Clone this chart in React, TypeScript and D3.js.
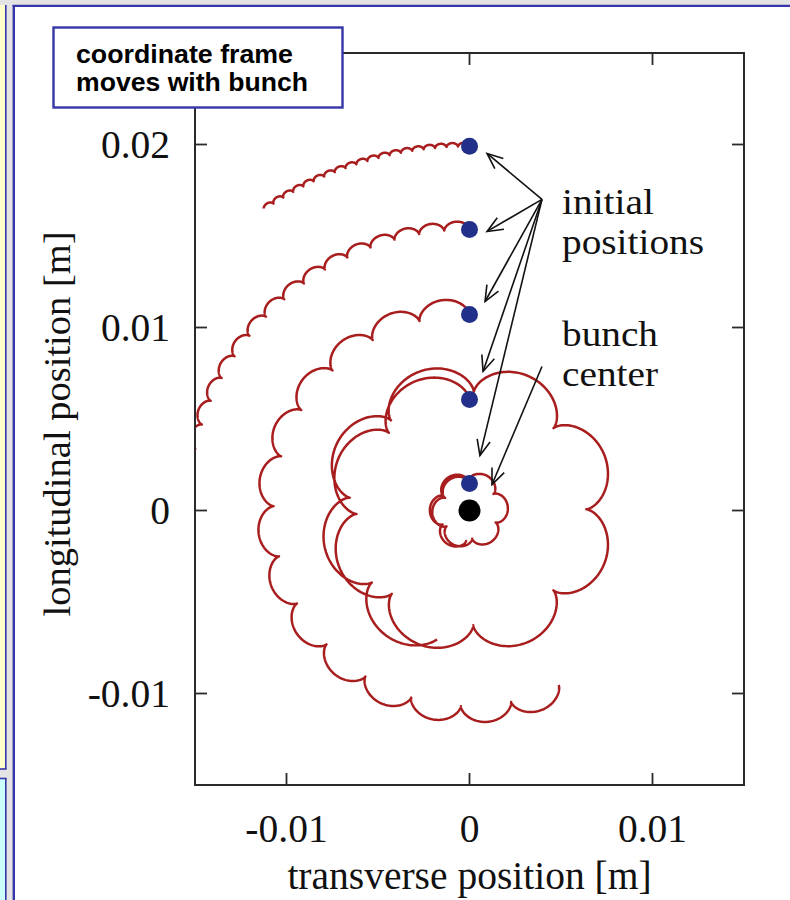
import React from 'react';
import * as d3 from 'd3';

// ---------- data ----------
const xDomain = [-0.015, 0.015];
const yDomain = [-0.015, 0.025];
const xTicks = [-0.01, 0, 0.01];
const yTicks = [-0.01, 0, 0.01, 0.02];
const xTickLabels = ['-0.01', '0', '0.01'];
const yTickLabels = ['-0.01', '0', '0.01', '0.02'];

// initial positions of the five test particles (m)
const startX = [0, 0, 0, 0, 0];
const startY = [0.0199, 0.01536, 0.01071, 0.00607, 0.00148];
// gyration (loop) radius of each track (m)
const loopRadius = [0.0001, 0.00022, 0.00044, 0.00078, 0.00026];
// total rotation of each track about the bunch centre (deg)
const sweepDeg = [34, 82, 207, 520, 540];
// slow outward drift of the guiding centre over the whole track (m)
const radialDrift = [0, 0, 0, 0.0006, 0.0002];

const bunchCenter = [0, 0];

// annotation arrows: shared tail and the tips near each initial position (m)
const arrowTail = [0.00396, 0.017];
const arrowTipX = [0.00096, 0.00096, 0.00085, 0.00074, 0.00057];
const arrowTipY = [0.01951, 0.01525, 0.01142, 0.0076, 0.003];
const centerArrow = [[0.00396, 0.00787], [0.00123, 0.00142]];

const xTitle = 'transverse position [m]';
const yTitle = 'longitudinal position [m]';
const boxLines = ['coordinate frame', 'moves with bunch'];
const noteLines = ['initial', 'positions', 'bunch', 'center'];

// ---------- layout ----------
const W = 790;
const H = 900;
const plot = { left: 195, right: 744, top: 53, bottom: 785 };
const SERIF = "'Liberation Serif', 'Times New Roman', serif";
const SANS = "'Liberation Sans', Arial, sans-serif";
const FS = 39.5;
const NOTE_FS = 36;
const RED = '#a81d1d';
const NAVY = '#22308a';
const BLUE = '#3636a8';
const AXIS = '#2a2a2a';

const x = d3.scaleLinear().domain(xDomain).range([plot.left, plot.right]);
const y = d3.scaleLinear().domain(yDomain).range([plot.bottom, plot.top]);

function trackPoints(i: number): [number, number][] {
  const r0 = Math.hypot(startX[i], startY[i]);
  const th0 = Math.atan2(startY[i], startX[i]);
  const a = loopRadius[i];
  const dTh = (sweepDeg[i] * Math.PI) / 180;
  const g = radialDrift[i];
  const loops = (dTh * r0) / a / (2 * Math.PI);
  const n = Math.ceil(loops * 90) + 60;
  const pts: [number, number][] = [];
  for (let k = 0; k <= n; k++) {
    const s = k / n;
    const th = th0 + s * dTh;
    const rgc = r0 + g * s + a;
    const phi = (dTh * (r0 * s + (g * s * s) / 2)) / a;
    const ux = Math.cos(th), uy = Math.sin(th);
    const vx = -Math.sin(th), vy = Math.cos(th);
    const px = rgc * ux - a * Math.cos(phi) * ux - a * Math.sin(phi) * vx;
    const py = rgc * uy - a * Math.cos(phi) * uy - a * Math.sin(phi) * vy;
    pts.push([px, py]);
  }
  return pts;
}

const line = d3
  .line<[number, number]>()
  .x((d) => x(d[0]))
  .y((d) => y(d[1]));

function arrowHead(x1: number, y1: number, x2: number, y2: number, L = 17, h = 0.4) {
  const ang = Math.atan2(y2 - y1, x2 - x1);
  const a1 = ang + Math.PI - h;
  const a2 = ang + Math.PI + h;
  return `M${x2 + L * Math.cos(a1)},${y2 + L * Math.sin(a1)}L${x2},${y2}L${x2 + L * Math.cos(a2)},${y2 + L * Math.sin(a2)}`;
}

// note placement (baseline y, stretched width)
const notePos = [
  { y: 214, w: 92 },
  { y: 254, w: 142 },
  { y: 346, w: 96 },
  { y: 386, w: 96 },
];

export default function App() {
  const tracks = startY.map((_, i) => trackPoints(i));
  const tail = [x(arrowTail[0]), y(arrowTail[1])];
  const tickLen = 12;

  return (
    <svg
      width={W}
      height={H}
      viewBox={`0 0 ${W} ${H}`}
      style={{ position: 'fixed', left: 0, top: 0, display: 'block' }}
    >
      <defs>
        <clipPath id="plotClip">
          <rect x={plot.left} y={plot.top} width={plot.right - plot.left} height={plot.bottom - plot.top} />
        </clipPath>
      </defs>

      {/* slide chrome */}
      <rect x={0} y={0} width={W} height={H} fill="#e4e4e4" />
      <rect x={0} y={5} width={5.5} height={763} fill="#ffffcc" />
      <line x1={5.8} y1={5} x2={5.8} y2={769} stroke={BLUE} strokeWidth={1.6} />
      <line x1={0} y1={769} x2={6.6} y2={769} stroke={BLUE} strokeWidth={1.6} />
      <rect x={0} y={779} width={5.5} height={121} fill="#ccffff" />
      <line x1={5.8} y1={778.5} x2={5.8} y2={900} stroke={BLUE} strokeWidth={1.6} />
      <line x1={0} y1={778.5} x2={6.6} y2={778.5} stroke={BLUE} strokeWidth={1.6} />
      <rect x={13} y={5} width={W - 13} height={H - 5} fill="#ffffff" />
      <line x1={13.8} y1={5} x2={13.8} y2={H} stroke={BLUE} strokeWidth={2.4} />
      <line x1={12.6} y1={5.8} x2={W} y2={5.8} stroke={BLUE} strokeWidth={2.2} />

      {/* trajectories */}
      <g clipPath="url(#plotClip)">
        {tracks.map((pts, i) => (
          <path key={i} d={line(pts) || ''} fill="none" stroke={RED} strokeWidth={2.5} strokeLinejoin="round" />
        ))}
      </g>

      {/* axes frame */}
      <rect
        x={plot.left}
        y={plot.top}
        width={plot.right - plot.left}
        height={plot.bottom - plot.top}
        fill="none"
        stroke={AXIS}
        strokeWidth={2}
      />
      {xTicks.map((t) => (
        <g key={'xt' + t}>
          <line x1={x(t)} x2={x(t)} y1={plot.bottom} y2={plot.bottom - tickLen} stroke={AXIS} strokeWidth={1.8} />
          <line x1={x(t)} x2={x(t)} y1={plot.top} y2={plot.top + tickLen} stroke={AXIS} strokeWidth={1.8} />
        </g>
      ))}
      {yTicks.map((t) => (
        <g key={'yt' + t}>
          <line x1={plot.left} x2={plot.left + tickLen} y1={y(t)} y2={y(t)} stroke={AXIS} strokeWidth={1.8} />
          <line x1={plot.right} x2={plot.right - tickLen} y1={y(t)} y2={y(t)} stroke={AXIS} strokeWidth={1.8} />
        </g>
      ))}
      {xTicks.map((t, i) => (
        <text key={'xl' + t} x={x(t)} y={842} textAnchor="middle" fontFamily={SERIF} fontSize={FS} fill="#111">
          {xTickLabels[i]}
        </text>
      ))}
      {yTicks.map((t, i) => (
        <text key={'yl' + t} x={170} y={y(t) + 13.5} textAnchor="end" fontFamily={SERIF} fontSize={FS} fill="#111">
          {yTickLabels[i]}
        </text>
      ))}
      <text x={(plot.left + plot.right) / 2} y={889} textAnchor="middle" fontFamily={SERIF} fontSize={FS} fill="#111">
        {xTitle}
      </text>
      <text
        transform={`translate(70,424) rotate(-90)`}
        textAnchor="middle"
        fontFamily={SERIF}
        fontSize={38.5}
        fill="#111"
      >
        {yTitle}
      </text>

      {/* arrows */}
      {arrowTipX.map((tx, i) => {
        const x2 = x(tx), y2 = y(arrowTipY[i]);
        return (
          <g key={'ar' + i} stroke="#111" strokeWidth={1.6} fill="none">
            <line x1={tail[0]} y1={tail[1]} x2={x2} y2={y2} />
            <path d={arrowHead(tail[0], tail[1], x2, y2)} />
          </g>
        );
      })}
      {(() => {
        const x1 = x(centerArrow[0][0]), y1 = y(centerArrow[0][1]);
        const x2 = x(centerArrow[1][0]), y2 = y(centerArrow[1][1]);
        return (
          <g stroke="#111" strokeWidth={1.6} fill="none">
            <line x1={x1} y1={y1} x2={x2} y2={y2} />
            <path d={arrowHead(x1, y1, x2, y2)} />
          </g>
        );
      })()}

      {/* initial positions and bunch centre */}
      {startY.map((sy, i) => (
        <circle key={'d' + i} cx={x(startX[i])} cy={y(sy)} r={8.5} fill={NAVY} />
      ))}
      <circle cx={x(bunchCenter[0])} cy={y(bunchCenter[1])} r={11} fill="#000" />

      {/* notes */}
      {noteLines.map((t, i) => (
        <text
          key={'n' + i}
          x={562}
          y={notePos[i].y}
          fontFamily={SERIF}
          fontSize={NOTE_FS}
          textLength={notePos[i].w}
          lengthAdjust="spacingAndGlyphs"
          fill="#111"
        >
          {t}
        </text>
      ))}

      {/* label box */}
      <rect x={53.5} y={27.5} width={289} height={80} fill="#fff" stroke={BLUE} strokeWidth={2.4} />
      {boxLines.map((t, i) => (
        <text key={'b' + i} x={76} y={63 + i * 28} fontFamily={SANS} fontWeight="bold" fontSize={26} textLength={i === 0 ? 217 : 232} lengthAdjust="spacingAndGlyphs" fill="#000">
          {t}
        </text>
      ))}
    </svg>
  );
}
